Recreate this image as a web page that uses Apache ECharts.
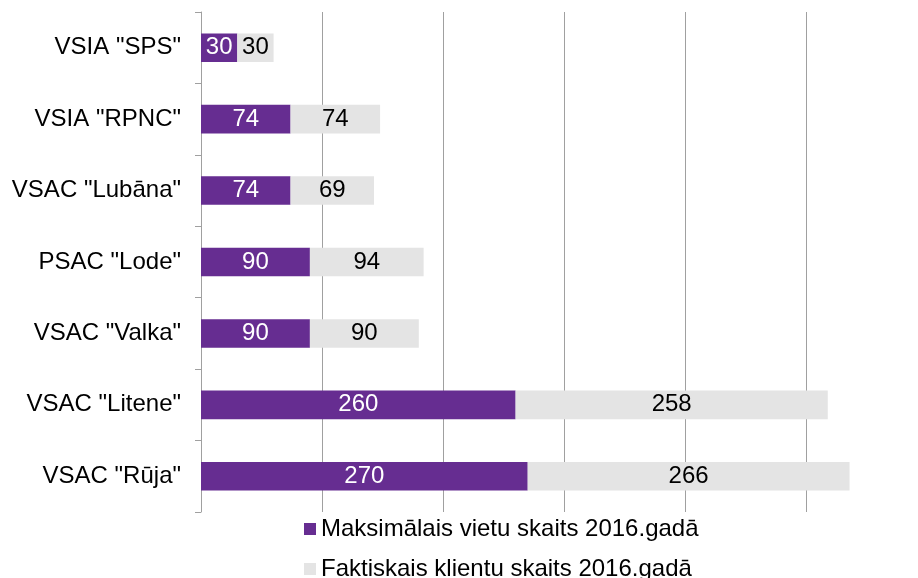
<!DOCTYPE html>
<html>
<head>
<meta charset="utf-8">
<script src="https://cdn.jsdelivr.net/npm/echarts@6/dist/echarts.min.js"></script>
<style>
html, body { margin: 0; padding: 0; background: #fff; }
#chart { width: 918px; height: 578px; }
</style>
</head>
<body>
<div id="chart"></div>
<script>
var categories = ['VSIA "SPS"', 'VSIA "RPNC"', 'VSAC "Lubāna"', 'PSAC "Lode"', 'VSAC "Valka"', 'VSAC "Litene"', 'VSAC "Rūja"'];
var maxPlaces = [30, 74, 74, 90, 90, 260, 270];
var actualClients = [30, 74, 69, 94, 90, 258, 266];
var seriesNames = ['Maksimālais vietu skaits 2016.gadā', 'Faktiskais klientu skaits 2016.gadā'];

var chart = echarts.init(document.getElementById('chart'));
var font = 'Liberation Sans, Arial, sans-serif';

var option = {
	animation: false,
	textStyle: { fontFamily: font },
	grid: {
		left: 201,
		top: 12,
		width: 726,
		height: 500,
		outerBoundsMode: 'none'
	},
	legend: {
		orient: 'vertical',
		left: 299,
		top: 512,
		height: 120,
		itemWidth: 12,
		itemHeight: 12,
		itemGap: 16,
		icon: 'rect',
		textStyle: { fontSize: 24, color: '#000', fontFamily: font },
		data: seriesNames
	},
	xAxis: {
		type: 'value',
		min: 0,
		max: 600,
		interval: 100,
		axisLabel: { show: false },
		axisLine: { show: false },
		axisTick: { show: false },
		splitLine: { lineStyle: { color: '#a0a0a0', width: 1 } }
	},
	yAxis: {
		type: 'category',
		inverse: true,
		data: categories,
		axisLine: { lineStyle: { color: '#a0a0a0' } },
		axisTick: { show: true, length: 6, lineStyle: { color: '#a0a0a0' } },
		axisLabel: { fontSize: 24, color: '#000', margin: 20, fontFamily: font }
	},
	series: [{
		name: seriesNames[0],
		type: 'bar',
		stack: 'total',
		barCategoryGap: '60%',
		data: maxPlaces,
		itemStyle: { color: '#662d91' },
		label: { show: true, position: 'inside', color: '#fff', fontSize: 24, fontFamily: font }
	}, {
		name: seriesNames[1],
		type: 'bar',
		stack: 'total',
		barCategoryGap: '60%',
		data: actualClients,
		itemStyle: { color: '#e4e4e4' },
		label: { show: true, position: 'inside', color: '#000', fontSize: 24, fontFamily: font }
	}]
};

chart.setOption(option);
</script>
</body>
</html>
